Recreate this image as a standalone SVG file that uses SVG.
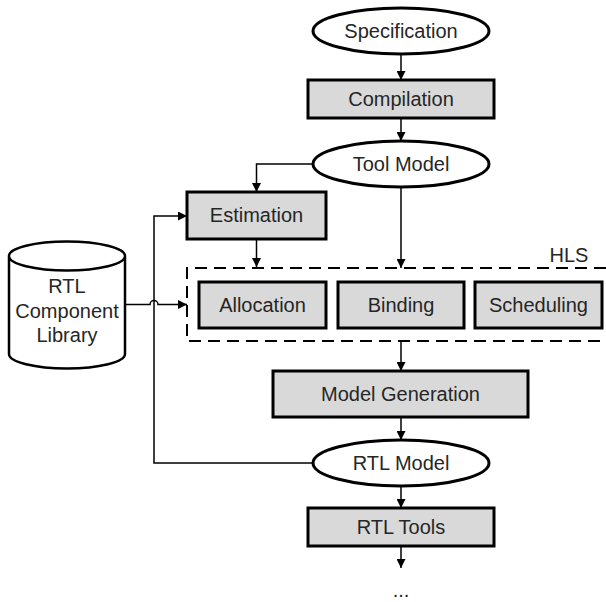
<svg xmlns="http://www.w3.org/2000/svg" width="606" height="602" viewBox="0 0 606 602">
<defs>
<marker id="arr" viewBox="0 0 10 10" refX="10" refY="5" markerWidth="9" markerHeight="9" markerUnits="userSpaceOnUse" orient="auto">
<path d="M0,0 L10,5 L0,10 z" fill="#000"/>
</marker>
</defs>
<style>
.box{fill:#d9d9d9;stroke:#000;stroke-width:3}
.ell{fill:#fff;stroke:#000;stroke-width:3}
.cyl{fill:#fff;stroke:#000;stroke-width:2.5}
.t{font-family:"Liberation Sans",Arial,sans-serif;font-size:20px;fill:#262626;text-anchor:middle}
.c{fill:none;stroke:#000;stroke-width:1.5}
.dash{fill:none;stroke:#000;stroke-width:2;stroke-dasharray:12,7}
</style>
<rect width="606" height="602" fill="#fff"/>
<g id="hls">
<path class="dash" d="M606,268 H187 V341 H606"/>
<text class="t" x="569" y="262">HLS</text>
</g>
<g id="specification">
<ellipse class="ell" cx="401" cy="31" rx="88" ry="23"/>
<text class="t" x="401" y="38">Specification</text>
</g>
<g id="compilation">
<rect class="box" x="308" y="80" width="186" height="38"/>
<text class="t" x="401" y="106">Compilation</text>
</g>
<g id="toolmodel">
<ellipse class="ell" cx="401" cy="164" rx="88" ry="23"/>
<text class="t" x="401" y="171">Tool Model</text>
</g>
<g id="estimation">
<rect class="box" x="187" y="192" width="139" height="47"/>
<text class="t" x="256.5" y="222">Estimation</text>
</g>
<g id="allocation">
<rect class="box" x="199" y="282" width="127" height="46"/>
<text class="t" x="262.5" y="312">Allocation</text>
</g>
<g id="binding">
<rect class="box" x="338" y="282" width="126" height="46"/>
<text class="t" x="401" y="312">Binding</text>
</g>
<g id="scheduling">
<rect class="box" x="475" y="282" width="127" height="46"/>
<text class="t" x="538.5" y="312">Scheduling</text>
</g>
<g id="library">
<path class="cyl" d="M9,256 V354 A58,14.5 0 0 0 125,354 V256 A58,14.5 0 0 0 9,256 A58,14.5 0 0 0 125,256"/>
<text class="t" x="67" y="293">RTL</text>
<text class="t" x="67" y="318">Component</text>
<text class="t" x="67" y="342">Library</text>
</g>
<g id="modelgeneration">
<rect class="box" x="273" y="371" width="255" height="46"/>
<text class="t" x="400.5" y="401">Model Generation</text>
</g>
<g id="rtlmodel">
<ellipse class="ell" cx="401" cy="463" rx="88" ry="23"/>
<text class="t" x="401" y="470">RTL Model</text>
</g>
<g id="rtltools">
<rect class="box" x="308" y="508" width="186" height="38"/>
<text class="t" x="401" y="534">RTL Tools</text>
</g>
<g id="more">
<text class="t" x="401" y="597">...</text>
</g>
<g id="connectors">
<path class="c" d="M401,54 V80" marker-end="url(#arr)"/>
<path class="c" d="M401,118 V141" marker-end="url(#arr)"/>
<path class="c" d="M313,164 H256.5 V192" marker-end="url(#arr)"/>
<path class="c" d="M401,187 V268" marker-end="url(#arr)"/>
<path class="c" d="M256.5,239 V267" marker-end="url(#arr)"/>
<path class="c" d="M313,463 H154 V216 H187" marker-end="url(#arr)"/>
<path class="c" d="M125,304.5 H150 A4,4 0 0 1 158,304.5 H187" marker-end="url(#arr)"/>
<path class="c" d="M401,341 V371" marker-end="url(#arr)"/>
<path class="c" d="M401,417 V440" marker-end="url(#arr)"/>
<path class="c" d="M401,486 V508" marker-end="url(#arr)"/>
<path class="c" d="M401,546 V568" marker-end="url(#arr)"/>
</g>
</svg>
